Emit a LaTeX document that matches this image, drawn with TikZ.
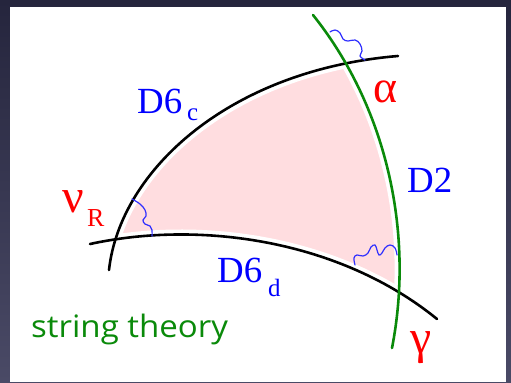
\documentclass[tikz,border=0pt]{standalone}
\usepackage{fontspec}
\setmainfont{Liberation Serif}
\newfontfamily\comicish{Open Sans}
\definecolor{bgtop}{HTML}{25253D}
\definecolor{bgbot}{HTML}{4A4A66}
\definecolor{pinkfill}{HTML}{FFDDE0}
\definecolor{dgreen}{HTML}{0A8A0A}
\definecolor{wblue}{HTML}{3030FF}
\tikzset{
  brane/.style={line width=2.6pt, black, line cap=round},
  dtwo/.style={line width=2.6pt, dgreen, line cap=round},
  gap/.style={line width=10pt, white},
  wavy/.style={wblue, line width=1.2pt, line cap=round},
  lbl/.style={inner sep=0pt, anchor=base west},
  bluetxt/.style={lbl, text=blue, font=\fontsize{37}{37}\selectfont},
  bluesub/.style={lbl, text=blue, font=\fontsize{25}{25}\selectfont},
  redtxt/.style={lbl, text=red},
}
\begin{document}
\begin{tikzpicture}[x=1bp,y=-1bp]
\useasboundingbox (0,0) rectangle (511,382);
\shade[top color=bgtop, bottom color=bgbot] (0,0) rectangle (511,382);
\fill[white] (10,7) rectangle (506,382);
% pink region bounded by the three branes
\begin{scope}
  \clip (109,270) .. controls (120,170) and (230,70) .. (398,56) -- (511,56) -- (511,382) -- (109,382) -- cycle;
  \clip (90,244) .. controls (200,220) and (340,240) .. (437,319) -- (511,319) -- (511,0) -- (90,0) -- cycle;
  \clip (313,15) .. controls (385,105) and (415,230) .. (392,348) -- (0,348) -- (0,0) -- (313,0) -- cycle;
  \fill[pinkfill] (0,0) rectangle (511,382);
\end{scope}
% white margins along the branes
\draw[gap] (109,270) .. controls (120,170) and (230,70) .. (398,56);
\draw[gap] (90,244) .. controls (200,220) and (340,240) .. (437,319);
\draw[gap] (313,15) .. controls (385,105) and (415,230) .. (392,348);
% branes
\draw[brane] (109,270) .. controls (120,170) and (230,70) .. (398,56);
\draw[brane] (90,244) .. controls (200,220) and (340,240) .. (437,319);
\draw[dtwo] (313,15) .. controls (385,105) and (415,230) .. (392,348);
% open strings
\draw[wavy] plot[smooth, tension=0.7] coordinates {(330,32) (335,30) (340,33) (343,39) (348,41) (355,40) (360,44) (362,51) (360,56) (365,60)};
\draw[wavy] plot[smooth, tension=0.7] coordinates {(132,199) (140,204) (145,210) (146,216) (143,220) (145,224) (150,226) (152,230) (152,236)};
\draw[wavy] plot[smooth, tension=0.7] coordinates {(355,265) (354,258) (357,255) (363,256) (368,253) (371,247) (375,245) (377,250) (379,255) (382,253) (385,248) (390,245) (395,248) (397,255)};
% labels
\node[bluetxt] (d6c) at (137,113) {D6};
\node[bluesub] (d6cs) at (187,120) {c};
\node[bluetxt] (d2) at (407,192) {D2};
\node[bluetxt] (d6d) at (217,282) {D6};
\node[bluesub] (d6ds) at (268,296) {d};
\node[redtxt, font=\fontsize{48}{48}\selectfont] (nu) at (62,212) {ν};
\node[redtxt, font=\fontsize{26}{26}\selectfont] (nus) at (87,226) {R};
\node[redtxt, font=\fontsize{46}{46}\selectfont] (al) at (373,102) {α};
\node[redtxt, font=\fontsize{48}{48}\selectfont] (ga) at (410,353) {γ};
\node[lbl, text=dgreen, font=\comicish\fontsize{31}{31}\selectfont] (st) at (31,337) {\scalebox{1.07}[1]{string theory}};
\end{tikzpicture}
\end{document}
